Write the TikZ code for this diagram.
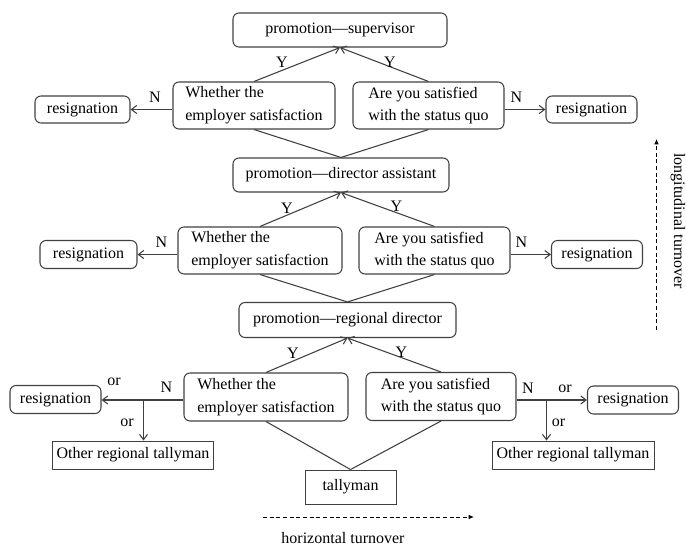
\documentclass[tikz,border=0pt]{standalone}
\usepackage{fontspec}
\setmainfont{Liberation Serif}
\usetikzlibrary{arrows.meta}
\begin{document}
\begin{tikzpicture}[x=0.75pt,y=-0.75pt,
  font=\fontsize{12}{17}\selectfont,
  line width=0.8pt,
  >={Straight Barb[length=4pt,width=6pt]},
  rb/.style={draw=black!75, rounded corners=4.5pt, inner sep=0pt, align=left},
  sb/.style={draw=black!75, line width=0.7pt, inner sep=0pt},
  box/.style 2 args={minimum width=#1*0.75pt, minimum height=#2*0.75pt},
  conn/.style={draw=black!75},
  arr/.style={draw=black!75, ->},
  lbl/.style={inner sep=0pt},
  dasharr/.style={draw=black, line width=0.7pt, dash pattern=on 3pt off 2pt, -{Latex[length=4pt,width=3.5pt]}}
]
\useasboundingbox (0,0) rectangle (686,546);

% level 1
\node[rb, box={214}{34}] (sup) at (340,30) {promotion—supervisor};
\node[rb, box={162}{47}] (L1) at (254,105.5) {Whether the\\employer satisfaction};
\node[rb, box={151}{47}] (R1) at (428.5,105.5) {Are you satisfied\\with the status quo};
\node[rb, box={95}{27}] (resL1) at (82.5,109.5) {resignation};
\node[rb, box={91}{27}] (resR1) at (591.5,109.5) {resignation};

% level 2
\node[rb, box={216}{34}] (da) at (341,175) {promotion—director assistant};
\node[rb, box={164}{47}] (L2) at (260,250.5) {Whether the\\employer satisfaction};
\node[rb, box={151}{47}] (R2) at (434.5,250.5) {Are you satisfied\\with the status quo};
\node[rb, box={97}{28}] (resL2) at (88.5,254.5) {resignation};
\node[rb, box={91}{28}] (resR2) at (597,254.5) {resignation};

% level 3
\node[rb, box={217}{35}] (rd) at (347.5,320) {promotion—regional director};
\node[rb, box={164}{48}] (L3) at (266,397) {Whether the\\employer satisfaction};
\node[rb, box={150}{48}] (R3) at (441,396.5) {Are you satisfied\\with the status quo};
\node[rb, box={91}{28}] (resL3) at (55.5,399.5) {resignation};
\node[rb, box={91}{28}] (resR3) at (633,400) {resignation};
\node[sb, box={161}{28}] (otherL) at (133,455) {Other regional tallyman};
\node[sb, box={162}{28}] (otherR) at (573,455) {Other regional tallyman};
\node[sb, box={91}{34}] (tally) at (350.5,487) {tallyman};

% connectors level 1
\draw[arr] (L1.north) -- (sup.south);
\draw[arr] (R1.north) -- (sup.south);
\draw[conn] (L1.south) -- (da.north);
\draw[conn] (R1.south) -- (da.north);
\draw[arr] (L1.west |- resL1) -- (resL1.east);
\draw[arr] (R1.east |- resR1) -- (resR1.west);

% connectors level 2
\draw[arr] (L2.north) -- (da.south);
\draw[arr] (R2.north) -- (da.south);
\draw[conn] (L2.south) -- (rd.north);
\draw[conn] (R2.south) -- (rd.north);
\draw[arr] (L2.west |- resL2) -- (resL2.east);
\draw[arr] (R2.east |- resR2) -- (resR2.west);

% connectors level 3
\draw[arr] (L3.north) -- (rd.south);
\draw[arr] (R3.north) -- (rd.south);
\draw[conn] (L3.south) -- (tally.north);
\draw[conn] (R3.south) -- (tally.north);
\coordinate (jL) at (143.5,400);
\coordinate (jR) at (546.5,400);
\draw[conn] (L3.west |- jL) -- (jL);
\draw[arr] (jL) -- (resL3.east |- jL);
\draw[arr] (jL) -- (jL |- otherL.north);
\draw[conn] (R3.east |- jR) -- (jR);
\draw[arr] (jR) -- (resR3.west |- jR);
\draw[arr] (jR) -- (jR |- otherR.north);

% labels
\node[lbl] (y1l) at (282,62) {Y};
\node[lbl] (y1r) at (390,62) {Y};
\node[lbl] (n1l) at (155,97) {N};
\node[lbl] (n1r) at (516.5,97) {N};
\node[lbl] (y2l) at (287,208) {Y};
\node[lbl] (y2r) at (396.5,206) {Y};
\node[lbl] (n2l) at (161.5,242) {N};
\node[lbl] (n2r) at (521.5,242) {N};
\node[lbl] (y3l) at (293,353) {Y};
\node[lbl] (y3r) at (401.5,352) {Y};
\node[lbl] (n3l) at (166.5,387) {N};
\node[lbl] (n3r) at (528,388) {N};
\node[lbl] (or1) at (114,382) {or};
\node[lbl] (or2) at (127,423) {or};
\node[lbl] (or3) at (565,388.5) {or};
\node[lbl] (or4) at (558.5,423) {or};

% turnover arrows
\coordinate (h1) at (263,517);
\coordinate (h2) at (474,517);
\draw[dasharr] (h1) -- (h2);
\node[lbl] (hl) at (343,538) {horizontal turnover};
\coordinate (v1) at (656.5,330);
\coordinate (v2) at (656.5,139);
\draw[dasharr] (v1) -- (v2);
\node[lbl, rotate=-90] (vl) at (678,221) {longitudinal turnover};
\end{tikzpicture}
\end{document}
